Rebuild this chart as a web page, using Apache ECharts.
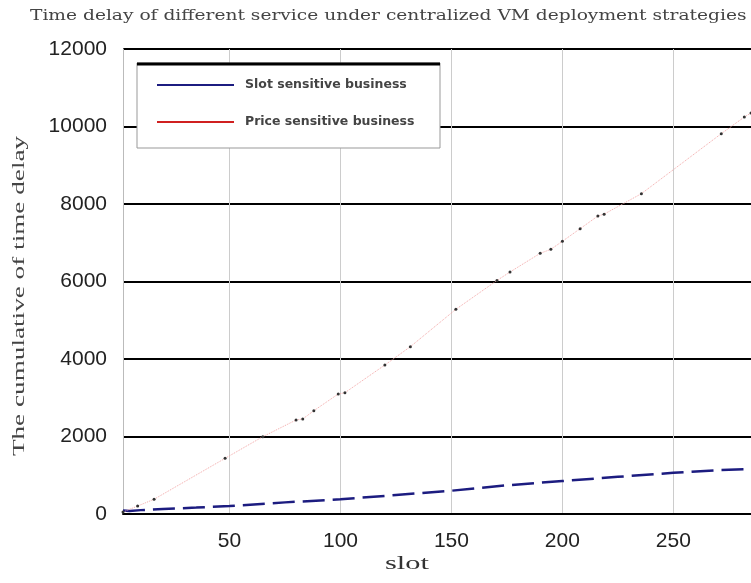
<!DOCTYPE html>
<html>
<head>
<meta charset="utf-8">
<script src="https://cdn.jsdelivr.net/npm/echarts@6/dist/echarts.min.js"></script>
<style>html,body{margin:0;padding:0;background:#fff}#c{width:751px;height:583px}</style>
</head>
<body>
<div id="c"></div>
<script>
const titleText = 'Time delay of different service under centralized VM deployment strategies';
const xAxisName = 'slot';
const yAxisName = 'The cumulative of time delay';
const seriesNames = ['Slot sensitive business', 'Price sensitive business'];
const seriesColors = ['#1c1c80', '#d02020'];
const xTickValues = [50, 100, 150, 200, 250];

// Slot sensitive business (blue dashed)
const slotX = [2, 5, 10, 20, 35, 50, 75, 100, 125, 150, 175, 200, 225, 250, 270, 285];
const slotY = [90, 77, 100, 129, 165, 206, 300, 379, 490, 601, 740, 851, 960, 1062, 1130, 1160];

// Price sensitive business (red dotted with dots)
const priceX = [2, 8.6, 16, 48, 65, 80, 83, 88, 99, 102, 120, 131.5, 152, 170.5, 176.4, 190, 194.8, 200, 208, 216, 218.8, 235.6, 271.6, 282, 285];
const priceY = [50, 206, 380, 1436, 1995, 2426, 2452, 2666, 3097, 3130, 3845, 4318, 5282, 6025, 6245, 6727, 6831, 7037, 7363, 7690, 7738, 8266, 9814, 10245, 10350];

const zip = (xs, ys) => xs.map((x, i) => [x, ys[i]]);

const chart = echarts.init(document.getElementById('c'), null, {renderer: 'canvas'});
chart.setOption({
  backgroundColor: '#fff',
  animation: false,
  graphic: [
    {type: 'text', z: 50, x: 30, y: 9, scaleX: 1.33,
     style: {text: titleText, font: '14px "DejaVu Serif"', fill: '#444', textVerticalAlign: 'top'}},
    {type: 'text', z: 50, x: 407, y: 555, scaleX: 1.6,
     style: {text: xAxisName, font: '19px "Liberation Serif"', fill: '#333', textAlign: 'center', textVerticalAlign: 'top'}},
    {type: 'text', z: 50, x: 11, y: 296, rotation: Math.PI / 2, scaleX: 1.6,
     style: {text: yAxisName, font: '17px "Liberation Serif"', fill: '#444', textAlign: 'center', textVerticalAlign: 'top'}},
    {type: 'rect', z: 50, shape: {x: 137, y: 63, width: 303, height: 85},
     style: {fill: '#fff', stroke: '#999', lineWidth: 1}},
    {type: 'line', z: 51, shape: {x1: 137, y1: 64, x2: 440, y2: 64},
     style: {stroke: '#000', lineWidth: 3}}
  ],
  legend: {
    z: 60,
    left: 152, top: 73,
    orient: 'vertical',
    icon: 'rect',
    itemWidth: 77, itemHeight: 2,
    itemGap: 23,
    textStyle: {fontFamily: 'DejaVu Sans', fontSize: 12.5, fontWeight: 'bold', color: '#444',
                padding: [0, 0, 0, 6], lineHeight: 14},
    data: seriesNames.map((n, i) => ({name: n, itemStyle: {color: seriesColors[i]}}))
  },
  grid: {left: 123, right: 0, top: 49, bottom: 69, containLabel: false},
  xAxis: {
    type: 'value', min: 2, max: 285,
    axisLine: {show: true, lineStyle: {color: '#000', width: 2}},
    axisTick: {show: false, customValues: xTickValues},
    axisLabel: {customValues: xTickValues, margin: 17, fontFamily: 'Liberation Sans', fontSize: 21, color: '#222'},
    splitLine: {show: true, lineStyle: {color: '#ccc', width: 1}}
  },
  yAxis: {
    type: 'value', min: 0, max: 12000, interval: 2000,
    axisLine: {show: true, lineStyle: {color: '#bbb', width: 1}},
    axisTick: {show: false},
    axisLabel: {margin: 16, fontFamily: 'Liberation Sans', fontSize: 21, color: '#222',
                formatter: v => String(v)},
    splitLine: {show: true, lineStyle: {color: '#000', width: 2}}
  },
  series: [
    {
      name: seriesNames[0], type: 'line', data: zip(slotX, slotY),
      showSymbol: false, symbol: 'none',
      color: seriesColors[0],
      lineStyle: {color: seriesColors[0], width: 2.5, type: [22, 8]},
      z: 3
    },
    {
      name: seriesNames[1], type: 'line', data: zip(priceX, priceY),
      symbol: 'circle', symbolSize: 3, showSymbol: true,
      color: seriesColors[1],
      itemStyle: {color: '#333'},
      lineStyle: {color: '#f2a8a8', width: 1, type: 'dotted'},
      z: 4
    }
  ]
});
</script>
</body>
</html>
